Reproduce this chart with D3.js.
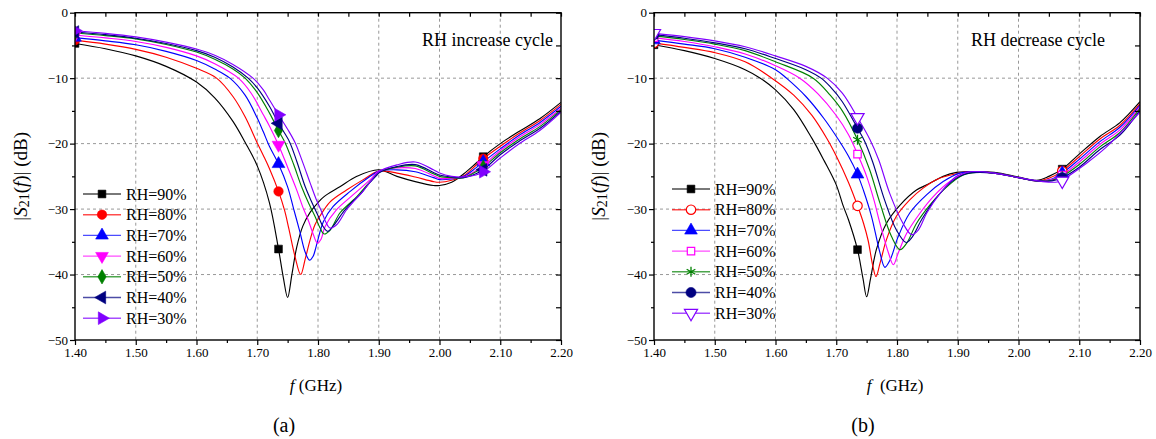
<!DOCTYPE html>
<html><head><meta charset="utf-8">
<script src="https://cdnjs.cloudflare.com/ajax/libs/d3/7.8.5/d3.min.js"></script>
<style>body{margin:0;background:#fff;} svg{display:block;} svg text{font-family:"Liberation Serif","Times New Roman",Times,serif !important;fill:#000;}</style>
</head><body><svg id="c" width="1156" height="439"></svg>
<script>
// ---------------- data ----------------
const xTicks = [1.40,1.50,1.60,1.70,1.80,1.90,2.00,2.10,2.20];
const xMinor = [1.45,1.55,1.65,1.75,1.85,1.95,2.05,2.15];
const yTicks = [0,-10,-20,-30,-40,-50];
const yMinor = [-5,-15,-25,-35,-45];
const seriesLabels = ["RH=90%","RH=80%","RH=70%","RH=60%","RH=50%","RH=40%","RH=30%"];
const markerFreqs = [1.40,1.735,2.072];
const panelNotes = ["RH increase cycle","RH decrease cycle"];
const panelTags = ["(a)","(b)"];

// (a) RH increase cycle  [f (GHz), |S21| (dB)]
const inc90 = [[1.40,-4.7],[1.45,-5.5],[1.50,-6.6],[1.55,-8.2],[1.60,-10.6],[1.63,-13.0],[1.66,-16.6],[1.68,-19.8],[1.70,-23.4],[1.72,-29.0],[1.735,-36.1],[1.743,-40.5],[1.750,-43.5],[1.757,-40.0],[1.765,-35.8],[1.775,-32.6],[1.787,-30.5],[1.80,-29.0],[1.81,-28.1],[1.836,-26.6],[1.864,-25.0],[1.90,-24.0],[1.93,-25.0],[1.96,-25.8],[1.99,-26.4],[2.00,-26.4],[2.02,-25.9],[2.04,-24.6],[2.06,-23.0],[2.072,-22.0],[2.10,-20.0],[2.13,-18.2],[2.165,-16.2],[2.20,-13.7]];
const inc80 = [[1.40,-4.2],[1.45,-4.8],[1.50,-5.6],[1.55,-6.8],[1.60,-8.5],[1.633,-10.0],[1.66,-12.8],[1.68,-15.9],[1.70,-19.9],[1.71,-21.8],[1.72,-23.8],[1.735,-27.3],[1.745,-30.2],[1.752,-33.0],[1.762,-37.2],[1.7715,-40.0],[1.779,-37.6],[1.787,-34.7],[1.795,-32.4],[1.803,-31.1],[1.82,-28.9],[1.847,-27.1],[1.8745,-25.5],[1.90,-24.2],[1.93,-24.5],[1.96,-25.1],[1.99,-25.8],[2.00,-25.9],[2.02,-25.6],[2.04,-24.9],[2.06,-23.3],[2.072,-22.3],[2.10,-20.4],[2.13,-18.5],[2.165,-16.5],[2.20,-14.0]];
const inc70 = [[1.40,-3.8],[1.45,-4.3],[1.50,-4.9],[1.55,-5.9],[1.60,-7.3],[1.63,-8.6],[1.655,-10.0],[1.68,-12.6],[1.70,-16.1],[1.71,-18.2],[1.72,-20.4],[1.735,-23.1],[1.75,-26.6],[1.76,-30.0],[1.77,-33.4],[1.779,-36.6],[1.786,-37.8],[1.792,-37.2],[1.797,-35.7],[1.809,-31.9],[1.825,-29.6],[1.853,-27.3],[1.886,-25.0],[1.90,-24.2],[1.93,-24.0],[1.96,-24.3],[1.99,-25.2],[2.00,-25.5],[2.02,-25.4],[2.04,-25.0],[2.06,-23.7],[2.072,-22.8],[2.10,-20.8],[2.13,-18.8],[2.165,-16.8],[2.20,-14.3]];
const inc60 = [[1.40,-3.4],[1.45,-3.85],[1.50,-4.4],[1.55,-5.3],[1.60,-6.6],[1.63,-7.8],[1.669,-10.0],[1.69,-12.3],[1.71,-15.6],[1.72,-17.3],[1.735,-20.2],[1.75,-23.6],[1.765,-27.1],[1.775,-29.7],[1.784,-31.7],[1.792,-33.8],[1.799,-35.2],[1.805,-34.6],[1.8115,-32.7],[1.8306,-30.1],[1.858,-27.8],[1.886,-25.5],[1.90,-24.2],[1.93,-23.7],[1.96,-23.8],[1.99,-24.9],[2.00,-25.3],[2.02,-25.3],[2.04,-25.1],[2.06,-24.1],[2.072,-23.3],[2.10,-21.1],[2.13,-19.1],[2.165,-17.1],[2.20,-14.6]];
const inc50 = [[1.40,-3.1],[1.45,-3.5],[1.50,-4.0],[1.55,-4.85],[1.60,-6.0],[1.63,-7.1],[1.66,-8.6],[1.68,-10.0],[1.70,-12.2],[1.72,-15.3],[1.735,-18.0],[1.746,-19.9],[1.76,-23.2],[1.773,-26.6],[1.785,-29.2],[1.795,-31.1],[1.803,-32.8],[1.81,-33.8],[1.82,-33.2],[1.836,-30.6],[1.85,-29.3],[1.864,-28.1],[1.878,-26.6],[1.891,-25.3],[1.90,-24.4],[1.93,-23.6],[1.96,-23.4],[1.99,-24.6],[2.00,-25.0],[2.02,-25.2],[2.04,-25.2],[2.06,-24.3],[2.072,-23.6],[2.10,-21.4],[2.13,-19.4],[2.165,-17.4],[2.20,-14.8]];
const inc40 = [[1.40,-2.95],[1.45,-3.35],[1.50,-3.9],[1.55,-4.7],[1.60,-5.8],[1.63,-6.8],[1.66,-8.3],[1.685,-10.0],[1.70,-11.5],[1.72,-14.3],[1.735,-16.9],[1.753,-19.7],[1.765,-22.7],[1.779,-26.6],[1.79,-29.0],[1.8005,-31.1],[1.808,-32.6],[1.816,-33.4],[1.825,-32.6],[1.842,-30.4],[1.855,-29.0],[1.869,-27.8],[1.883,-26.2],[1.897,-24.8],[1.90,-24.5],[1.93,-23.5],[1.96,-23.2],[1.99,-24.4],[2.00,-24.8],[2.02,-25.1],[2.04,-25.2],[2.06,-24.6],[2.072,-24.0],[2.10,-21.7],[2.13,-19.7],[2.165,-17.7],[2.20,-15.0]];
const inc30 = [[1.40,-2.75],[1.45,-3.15],[1.50,-3.7],[1.55,-4.5],[1.60,-5.55],[1.63,-6.5],[1.66,-7.9],[1.693,-10.0],[1.71,-11.8],[1.72,-13.3],[1.735,-15.6],[1.75,-17.8],[1.762,-19.8],[1.775,-22.9],[1.787,-26.0],[1.797,-28.5],[1.806,-30.4],[1.813,-32.0],[1.82,-32.9],[1.8306,-32.4],[1.847,-30.1],[1.86,-28.7],[1.874,-27.3],[1.887,-25.7],[1.90,-24.3],[1.93,-23.25],[1.96,-22.8],[1.99,-24.0],[2.00,-24.5],[2.02,-25.0],[2.04,-25.1],[2.06,-24.8],[2.072,-24.3],[2.10,-22.2],[2.13,-20.1],[2.165,-18.0],[2.20,-15.2]];

// (b) RH decrease cycle
const dec90 = [[1.40,-4.9],[1.45,-5.8],[1.50,-7.0],[1.55,-8.7],[1.575,-10.0],[1.60,-11.8],[1.63,-14.8],[1.66,-19.2],[1.68,-22.6],[1.70,-26.3],[1.711,-29.4],[1.72,-31.6],[1.735,-36.2],[1.744,-40.6],[1.750,-43.4],[1.7565,-40.6],[1.766,-36.2],[1.7825,-32.2],[1.805,-29.4],[1.832,-27.1],[1.849,-26.3],[1.876,-25.0],[1.898,-24.4],[1.914,-24.3],[1.96,-24.4],[2.00,-25.1],[2.03,-25.6],[2.05,-25.0],[2.072,-23.9],[2.10,-21.6],[2.134,-18.9],[2.167,-16.8],[2.20,-13.6]];
const dec80 = [[1.40,-4.6],[1.45,-5.3],[1.50,-6.1],[1.55,-7.5],[1.594,-10.0],[1.63,-12.6],[1.66,-15.7],[1.685,-19.3],[1.70,-21.9],[1.72,-25.9],[1.735,-29.5],[1.745,-32.2],[1.7525,-34.8],[1.760,-38.6],[1.7654,-40.3],[1.772,-38.3],[1.7825,-34.7],[1.799,-31.1],[1.821,-28.6],[1.843,-26.8],[1.870,-25.3],[1.898,-24.6],[1.914,-24.3],[1.96,-24.5],[2.00,-25.2],[2.03,-25.7],[2.05,-25.3],[2.072,-24.2],[2.10,-22.0],[2.134,-19.3],[2.167,-17.2],[2.20,-13.9]];
const dec70 = [[1.40,-4.2],[1.45,-4.8],[1.50,-5.5],[1.55,-6.8],[1.60,-8.7],[1.618,-10.0],[1.65,-12.8],[1.68,-16.2],[1.705,-19.6],[1.72,-21.9],[1.735,-24.7],[1.745,-27.2],[1.758,-31.1],[1.772,-36.7],[1.780,-38.9],[1.7885,-37.8],[1.802,-34.2],[1.821,-30.6],[1.849,-27.8],[1.876,-25.8],[1.903,-24.5],[1.92,-24.3],[1.96,-24.5],[2.00,-25.2],[2.03,-25.7],[2.055,-25.4],[2.072,-24.5],[2.10,-22.4],[2.134,-19.7],[2.167,-17.5],[2.20,-14.1]];
const dec60 = [[1.40,-3.8],[1.45,-4.4],[1.50,-5.2],[1.55,-6.3],[1.60,-8.1],[1.64,-10.0],[1.67,-12.4],[1.70,-15.7],[1.72,-18.6],[1.735,-21.6],[1.75,-25.0],[1.762,-28.6],[1.772,-32.2],[1.786,-36.7],[1.794,-38.5],[1.802,-36.7],[1.816,-33.7],[1.838,-30.6],[1.8597,-28.1],[1.887,-25.8],[1.914,-24.5],[1.96,-24.5],[2.00,-25.2],[2.03,-25.7],[2.055,-25.5],[2.072,-24.8],[2.10,-22.8],[2.134,-20.1],[2.167,-17.9],[2.20,-14.4]];
const dec50 = [[1.40,-3.55],[1.45,-4.1],[1.50,-4.8],[1.55,-5.8],[1.60,-7.5],[1.662,-10.0],[1.69,-12.6],[1.71,-15.0],[1.735,-19.4],[1.755,-24.0],[1.772,-29.1],[1.791,-34.2],[1.805,-36.2],[1.816,-35.2],[1.832,-32.2],[1.854,-29.4],[1.882,-26.6],[1.909,-24.8],[1.93,-24.4],[1.96,-24.5],[2.00,-25.2],[2.03,-25.7],[2.055,-25.6],[2.072,-25.0],[2.10,-23.2],[2.134,-20.5],[2.167,-18.3],[2.20,-14.6]];
const dec40 = [[1.40,-3.35],[1.45,-3.9],[1.50,-4.6],[1.55,-5.5],[1.60,-7.0],[1.65,-8.7],[1.675,-10.0],[1.69,-11.3],[1.71,-13.6],[1.735,-17.65],[1.7465,-19.6],[1.76,-22.8],[1.7795,-28.6],[1.799,-33.2],[1.815,-35.1],[1.824,-34.4],[1.8407,-31.6],[1.862,-28.6],[1.890,-25.8],[1.914,-24.6],[1.96,-24.5],[2.00,-25.2],[2.03,-25.7],[2.055,-25.7],[2.072,-25.2],[2.10,-23.6],[2.134,-20.9],[2.167,-18.7],[2.20,-14.9]];
const dec30 = [[1.40,-3.15],[1.45,-3.65],[1.50,-4.3],[1.55,-5.2],[1.60,-6.6],[1.65,-8.2],[1.685,-10.0],[1.71,-12.3],[1.735,-16.0],[1.7556,-19.4],[1.77,-22.5],[1.788,-27.6],[1.810,-32.2],[1.824,-33.9],[1.835,-33.2],[1.849,-30.6],[1.871,-27.6],[1.898,-25.0],[1.92,-24.3],[1.96,-24.5],[2.00,-25.2],[2.04,-25.8],[2.06,-25.9],[2.072,-25.7],[2.085,-24.8],[2.112,-23.0],[2.145,-20.5],[2.18,-17.2],[2.20,-15.2]];

// ---------------- styles ----------------
const colors = ["#000000","#ff0000","#0000ff","#ff00ff","#008000","#000080","#8000ff"];
const markersA = [
  {type:d3.symbolSquare,size:60,rot:0,open:false},
  {type:d3.symbolCircle,size:70,rot:0,open:false},
  {type:d3.symbolTriangle,size:70,rot:0,open:false},
  {type:d3.symbolTriangle,size:70,rot:180,open:false},
  {type:d3.symbolDiamond,size:60,rot:0,open:false},
  {type:d3.symbolTriangle,size:70,rot:-90,open:false},
  {type:d3.symbolTriangle,size:70,rot:90,open:false}];
const markersB = [
  {type:d3.symbolSquare,size:60,rot:0,open:false},
  {type:d3.symbolCircle,size:70,rot:0,open:true},
  {type:d3.symbolTriangle,size:70,rot:0,open:false},
  {type:d3.symbolSquare,size:55,rot:0,open:true},
  {type:d3.symbolAsterisk,size:70,rot:0,open:true,stroke:true},
  {type:d3.symbolCircle,size:80,rot:0,open:false},
  {type:d3.symbolTriangle,size:75,rot:180,open:true}];

const panels = [
  {left:75, right:561, series:[inc90,inc80,inc70,inc60,inc50,inc40,inc30], markers:markersA,
   legX:102, legY:194, noteX:553, ylabX:20, xlabX:316, tagX:284},
  {left:654, right:1140, series:[dec90,dec80,dec70,dec60,dec50,dec40,dec30], markers:markersB,
   legX:691, legY:189, noteX:1105, ylabX:598, xlabX:895, tagX:863}];
const plotTop = 12.7, plotBottom = 340;

const svg = d3.select("#c");

function drawMarker(g, m, color, x, y) {
  const p = g.append("path")
    .attr("d", d3.symbol().type(m.type).size(m.size)())
    .attr("transform", `translate(${x},${y}) rotate(${m.rot})`);
  if (m.stroke) p.attr("fill","none").attr("stroke",color).attr("stroke-width",1.3);
  else if (m.open) p.attr("fill","#fff").attr("stroke",color).attr("stroke-width",1.2);
  else p.attr("fill",color).attr("stroke",color).attr("stroke-width",0.6);
}

panels.forEach((P, pi) => {
  const x = d3.scaleLinear().domain([1.40,2.20]).range([P.left,P.right]);
  const y = d3.scaleLinear().domain([0,-50]).range([plotTop,plotBottom]);
  const g = svg.append("g");
  const clipId = "clip"+pi;
  svg.append("clipPath").attr("id",clipId).append("rect")
    .attr("x",P.left).attr("y",plotTop).attr("width",P.right-P.left).attr("height",plotBottom-plotTop);

  // grid
  const grid = g.append("g").attr("stroke","#8c8c8c").attr("stroke-width",0.9).attr("stroke-dasharray","3,3");
  xTicks.slice(1,-1).forEach(t => grid.append("line").attr("x1",x(t)).attr("x2",x(t)).attr("y1",plotTop).attr("y2",plotBottom));
  yTicks.slice(1,-1).forEach(t => grid.append("line").attr("x1",P.left).attr("x2",P.right).attr("y1",y(t)).attr("y2",y(t)));

  // curves
  const line = d3.line().x(d=>x(d[0])).y(d=>y(d[1])).curve(d3.curveCatmullRom.alpha(0.5));
  const cg = g.append("g").attr("clip-path",`url(#${clipId})`);
  P.series.forEach((s,i) => {
    cg.append("path").datum(s).attr("d",line).attr("fill","none")
      .attr("stroke",colors[i]).attr("stroke-width",1.15);
  });
  P.series.forEach((s,i) => {
    s.filter(d => markerFreqs.some(f => Math.abs(f-d[0])<1e-6))
     .forEach(d => drawMarker(cg, P.markers[i], colors[i], x(d[0]), y(d[1])));
  });

  // axes
  const fmt = d3.format(".2f");
  const ax = g.append("g");
  ax.append("g").attr("transform",`translate(0,${plotBottom})`)
    .call(d3.axisBottom(x).tickValues(xTicks).tickFormat(fmt).tickSizeInner(5).tickSizeOuter(0).tickPadding(3));
  ax.append("g").attr("transform",`translate(0,${plotBottom})`)
    .call(d3.axisBottom(x).tickValues(xMinor).tickFormat("").tickSizeInner(3).tickSizeOuter(0));
  ax.append("g").attr("transform",`translate(0,${plotTop})`)
    .call(d3.axisTop(x).tickValues(xTicks.concat(xMinor)).tickFormat("").tickSizeInner(-4).tickSizeOuter(0));
  ax.append("g").attr("transform",`translate(${P.left},0)`)
    .call(d3.axisLeft(y).tickValues(yTicks).tickFormat(d3.format("d")).tickSizeInner(5).tickSizeOuter(0).tickPadding(2));
  ax.append("g").attr("transform",`translate(${P.left},0)`)
    .call(d3.axisLeft(y).tickValues(yMinor).tickFormat("").tickSizeInner(3).tickSizeOuter(0));
  ax.append("g").attr("transform",`translate(${P.right},0)`)
    .call(d3.axisRight(y).tickValues(yTicks.concat(yMinor)).tickFormat("").tickSizeInner(-5).tickSizeOuter(0));
  ax.selectAll(".domain").remove();
  ax.selectAll(".tick line").attr("stroke","#000").attr("stroke-width",1.2);
  ax.selectAll("text").attr("font-size",13).attr("fill","#000");
  g.append("rect").attr("x",P.left).attr("y",plotTop).attr("width",P.right-P.left).attr("height",plotBottom-plotTop)
    .attr("fill","none").attr("stroke","#000").attr("stroke-width",1.4);

  // axis titles
  const yl = g.append("text").attr("transform",`translate(${P.ylabX},${(plotTop+plotBottom)/2}) rotate(-90)`)
    .attr("text-anchor","middle").attr("dominant-baseline","central").attr("font-size",19);
  yl.append("tspan").text("|");
  yl.append("tspan").attr("font-style","italic").text("S");
  yl.append("tspan").attr("font-size",14).attr("dy",4).text("21");
  yl.append("tspan").attr("dy",-4).text("(");
  yl.append("tspan").attr("font-style","italic").text("f");
  yl.append("tspan").text(")| (dB)");

  const xl = g.append("text").attr("x",P.xlabX).attr("y",391).attr("text-anchor","middle").attr("font-size",17)
    .style("white-space","pre");
  xl.append("tspan").attr("font-style","italic").text("f");
  xl.append("tspan").text(pi===0 ? " (GHz)" : "  (GHz)");

  g.append("text").attr("x",P.tagX).attr("y",432).attr("text-anchor","middle").attr("font-size",20).text(panelTags[pi]);
  g.append("text").attr("x",P.noteX).attr("y",46).attr("text-anchor","end").attr("font-size",18).text(panelNotes[pi]);

  // legend
  const lg = g.append("g");
  seriesLabels.forEach((lab,i) => {
    const ly = P.legY + i*20.7;
    lg.append("line").attr("x1",P.legX-19).attr("x2",P.legX+19).attr("y1",ly).attr("y2",ly)
      .attr("stroke",colors[i]).attr("stroke-width",1.4).attr("stroke-opacity",0.7);
    drawMarker(lg, P.markers[i], colors[i], P.legX, ly);
    lg.append("text").attr("x",P.legX+24).attr("y",ly+5.5).attr("font-size",16).text(lab);
  });
});
</script></body></html>
